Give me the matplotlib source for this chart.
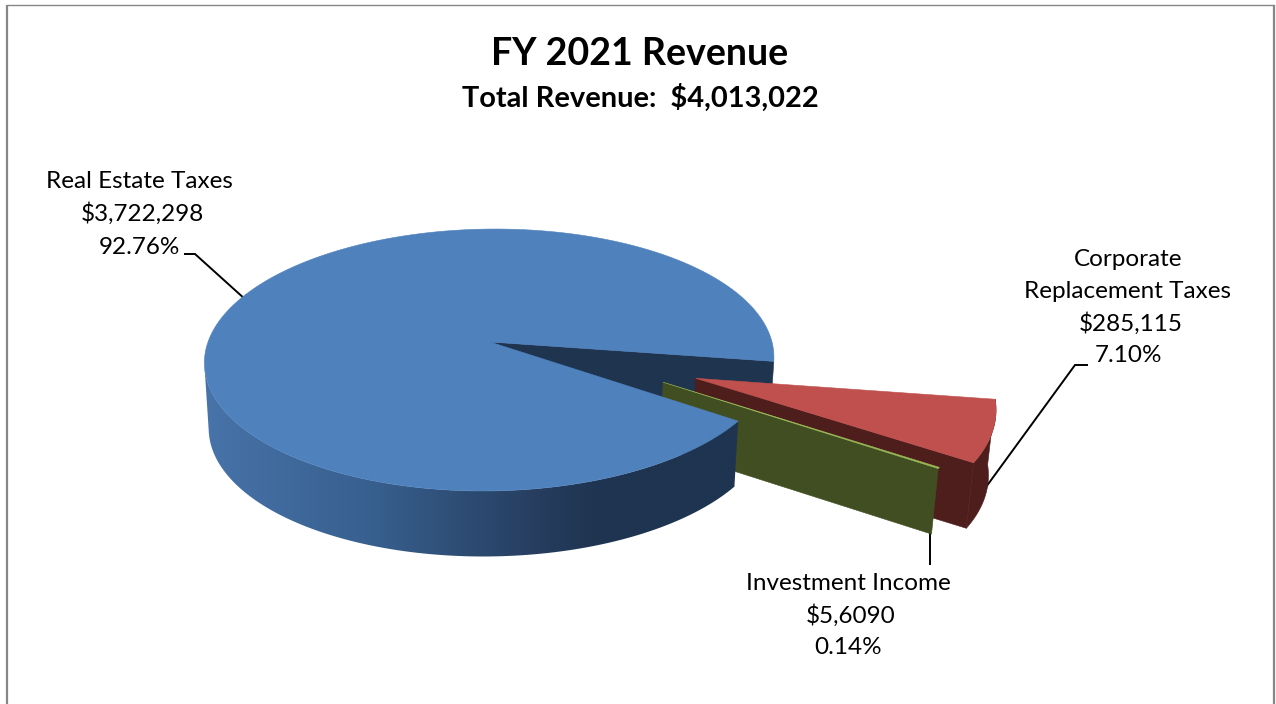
"""FY 2021 revenue - exploded 3D pie drawn by hand on a pixel canvas."""
import numpy as np
import matplotlib; matplotlib.use("Agg")
import matplotlib.pyplot as plt
from matplotlib.colors import LinearSegmentedColormap
from matplotlib.patches import Polygon

plt.rcParams["font.family"] = ["Lato", "DejaVu Sans"]

title = "FY 2021 Revenue"
subtitle = "Total Revenue:  $4,013,022"
categories = ["Real Estate Taxes", "Corporate Replacement Taxes", "Investment Income"]
values = [3722298, 285115, 5609]
money_labels = ["$3,722,298", "$285,115", "$5,6090"]
pct_labels = ["92.76%", "7.10%", "0.14%"]

TOP = {0: "#4F81BD", 1: "#C0504D", 2: "#9BBB59"}
DARK = {0: "#1E344F", 1: "#4E1E1C", 2: "#414E22"}
SIDE_RAMP = [(0, "#4874AA"), (0.05, "#4570A5"), (0.31, "#38608F"), (0.51, "#2C4A70"),
             (0.64, "#263C5E"), (0.74, "#1E3450"), (1, "#1E3450")]

# projection of the unit circle: perspective with tilt, in pixels
CX, CY = 490, 342
RX, RY, SKEW, K = 282, 128.5, -6, 0.1375
DEPTH, BOTTOM_SCALE = 65.5, 0.985
START = 8.5  # first slice after the blue one starts here (deg, clockwise)
OFFSET = {0: (0, 0), 1: (0.708, 0.272), 2: (0.595, 0.300)}


def project(u, v, low=False):
    w = 1 - K * v
    x = (RX * u + SKEW * v) / w
    y = RY * v / w
    if low:
        return CX + x * BOTTOM_SCALE, CY + y + DEPTH
    return CX + x, CY + y


def rim(a0, a1, i, low=False, n=120):
    t = np.radians(np.linspace(a0, a1, n))
    ou, ov = OFFSET[i]
    x, y = project(ou + np.cos(t), ov + np.sin(t), low)
    return np.column_stack([x, y])


def apex(i, low=False):
    x, y = project(*OFFSET[i], low)
    return np.array([[x, y]])


sweep = np.array(values) / sum(values) * 360
a_red0 = START
a_red1 = a_red0 + sweep[1]
a_green1 = a_red1 + sweep[2]
a_blue0 = a_green1
a_blue1 = a_blue0 + sweep[0]

fig = plt.figure(figsize=(12.76, 7.04), dpi=100)
ax = fig.add_axes([0, 0, 1, 1])
ax.set_xlim(0, 1276); ax.set_ylim(704, 0); ax.axis("off")


def poly(pts, color, z):
    p = Polygon(pts, closed=True, fc=color, ec=color, lw=0.4, zorder=z)
    ax.add_patch(p)
    return p


# leader lines go under the slices
lead = dict(color="black", lw=1.4, zorder=0.5, solid_capstyle="butt", solid_joinstyle="miter")
ax.plot([184, 195, 246], [254, 254, 300], **lead)
ax.plot([978, 1075, 1088], [498, 365, 365], **lead)
ax.plot([930, 930], [530, 565], **lead)

# blue back wall, seen through the gap
e = rim(a_blue1, a_blue1, 0, n=2)[:1]
e_low = rim(a_blue1, a_blue1, 0, low=True, n=2)[:1]
poly(np.vstack([apex(0), e, e_low, apex(0, True)]), DARK[0], 1)

# red slice
poly(np.vstack([rim(a_red0, a_red1, 1), rim(a_red0, a_red1, 1, True)[::-1]]), DARK[1], 2)
r = rim(a_red1, a_red1, 1, n=2)[:1]
r_low = rim(a_red1, a_red1, 1, True, n=2)[:1]
poly(np.vstack([apex(1), r, r_low, apex(1, True)]), DARK[1], 2.1)
poly(np.vstack([apex(1), rim(a_red0, a_red1, 1)]), TOP[1], 2.2)

# green sliver
g = rim(a_green1, a_green1, 2, n=2)[:1]
g_low = rim(a_green1, a_green1, 2, True, n=2)[:1]
poly(np.vstack([apex(2), g, g_low, apex(2, True)]), DARK[2], 3)
poly(np.vstack([apex(2), rim(a_red1, a_green1, 2, n=6)]), TOP[2], 3.1)

# blue front side with the left-to-right shading
side = np.vstack([rim(a_blue0, 170, 0, n=200), rim(a_blue0, 170, 0, True, n=200)[::-1]])
clip = poly(side, "none", 4)
clip.set_edgecolor("none")
cmap = LinearSegmentedColormap.from_list("side", SIDE_RAMP)
im = ax.imshow(np.linspace(0, 1, 256)[None, :], cmap=cmap, aspect="auto",
               extent=[side[:, 0].min(), side[:, 0].max(), 600, 300], zorder=4)
im.set_clip_path(clip)
ax.set_xlim(0, 1276); ax.set_ylim(704, 0)

# blue top
poly(np.vstack([apex(0), rim(a_blue0, a_blue1, 0, n=400)]), TOP[0], 5)

# chart frame
frame = dict(color="#868686", lw=1.6, zorder=7, solid_capstyle="butt")
ax.plot([7, 7], [704, 4.5], **frame)
ax.plot([7, 1274], [4.5, 4.5], color="#868686", lw=1.0, zorder=7)
ax.plot([1274, 1274], [4.5, 704], **frame)

# text
PX = 72 / 100
ax.text(640, 54, title, fontsize=37.6 * PX, fontweight="bold", ha="center", va="center")
ax.text(640, 98, subtitle, fontsize=29 * PX, fontweight="bold", ha="center", va="center")
fs = 24.2 * PX
for s, x, y in zip([categories[0], money_labels[0], pct_labels[0]], [139, 142, 139], [182, 214, 247]):
    ax.text(x, y, s, fontsize=fs, ha="center", va="center")
corp = categories[1].split(" ", 1)
for s, x, y in zip([corp[0], corp[1], money_labels[1], pct_labels[1]],
                   [1128, 1128, 1131, 1128], [260, 292, 324, 356]):
    ax.text(x, y, s, fontsize=fs, ha="center", va="center")
for s, x, y in zip([categories[2], money_labels[2], pct_labels[2]], [848, 851, 848], [584, 616, 648]):
    ax.text(x, y, s, fontsize=fs, ha="center", va="center")

fig.savefig("out.png", dpi=100)
